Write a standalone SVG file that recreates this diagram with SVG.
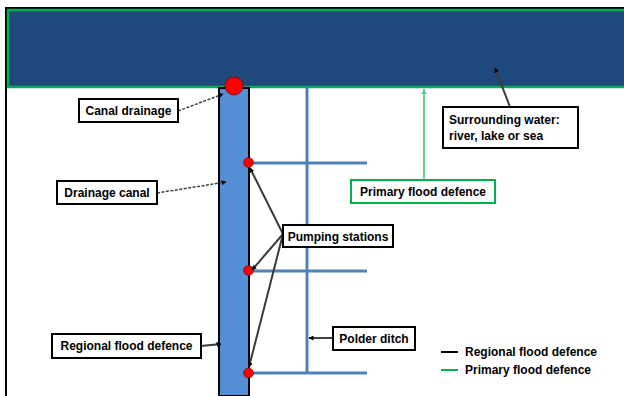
<svg xmlns="http://www.w3.org/2000/svg" width="624" height="396" viewBox="0 0 624 396">
<defs>
<style>
.lbl{font-family:"Liberation Sans",Arial,sans-serif;font-size:12px;font-weight:bold;fill:#000}
.box{fill:#fff;stroke:#000;stroke-width:2}
.gbox{fill:#fff;stroke:#00B050;stroke-width:2}
.ditch{stroke:#4F81BD;stroke-width:3;fill:none}
.ptr{stroke:#3A3A3A;stroke-width:2;fill:none;marker-end:url(#ah)}
.dash{stroke:#404040;stroke-width:1.5;fill:none;stroke-dasharray:3 1.5;marker-end:url(#ah)}
.pump{fill:#FF0000;stroke:#800000;stroke-width:0.8}
</style>
<marker id="ah" viewBox="0 0 10 10" refX="9" refY="5" markerWidth="5" markerHeight="5" orient="auto" markerUnits="userSpaceOnUse">
<path d="M0,0 L10,5 L0,10 z" fill="#000"/>
</marker>
<marker id="gah" viewBox="0 0 10 10" refX="9" refY="5" markerWidth="6" markerHeight="6" orient="auto" markerUnits="userSpaceOnUse">
<path d="M0,0 L10,5 L0,10 z" fill="#66D08A"/>
</marker>
</defs>
<rect width="624" height="396" fill="#fff"/>
<line x1="6" y1="8" x2="624" y2="8" stroke="#000" stroke-width="2"/>
<line x1="6" y1="7" x2="6" y2="396" stroke="#000" stroke-width="2"/>
<g id="water">
<rect x="8" y="10" width="620" height="77" fill="#1F497D" stroke="#00B050" stroke-width="2.5"/>
</g>
<g id="polder-ditch-lines">
<line class="ditch" x1="307" y1="88" x2="307" y2="374"/>
<line class="ditch" x1="248" y1="163" x2="367" y2="163"/>
<line class="ditch" x1="248" y1="271" x2="367" y2="271"/>
<line class="ditch" x1="248" y1="373" x2="367" y2="373"/>
</g>
<g id="canal">
<rect x="219" y="88" width="30" height="308" fill="#558ED5" stroke="#000" stroke-width="2"/>
</g>
<g id="stations">
<circle class="pump" cx="234" cy="86" r="9"/>
<circle class="pump" cx="248.5" cy="162.5" r="4.8"/>
<circle class="pump" cx="248.5" cy="270.5" r="4.8"/>
<circle class="pump" cx="248.5" cy="373" r="4.8"/>
</g>
<g id="connectors">
<line class="dash" x1="178" y1="111" x2="223" y2="94"/>
<line class="dash" x1="157" y1="193" x2="226" y2="182"/>
<line class="ptr" x1="510" y1="107" x2="495" y2="68"/>
<line x1="424" y1="180" x2="424" y2="89" stroke="#66D08A" stroke-width="2" marker-end="url(#gah)"/>
<line class="ptr" x1="283" y1="234" x2="250" y2="168"/>
<line class="ptr" x1="283" y1="234" x2="252" y2="270"/>
<line class="ptr" x1="283" y1="234" x2="249" y2="367"/>
<line class="ptr" x1="201" y1="346" x2="221" y2="344"/>
<line x1="333" y1="338" x2="309" y2="338" stroke="#000" stroke-width="1.5" marker-end="url(#ah)"/>
</g>
<g id="canal-drainage">
<rect class="box" x="79" y="99" width="99" height="23"/>
<text class="lbl" x="128.5" y="115" text-anchor="middle">Canal drainage</text>
</g>
<g id="drainage-canal">
<rect class="box" x="57" y="181" width="100" height="23"/>
<text class="lbl" x="107" y="197" text-anchor="middle">Drainage canal</text>
</g>
<g id="surrounding-water">
<rect class="box" x="443" y="107" width="135" height="41"/>
<text class="lbl" x="449" y="124">Surrounding water:</text>
<text class="lbl" x="449" y="140">river, lake or sea</text>
</g>
<g id="primary-flood-defence">
<rect class="gbox" x="351" y="180" width="144" height="23"/>
<text class="lbl" x="423" y="196" text-anchor="middle">Primary flood defence</text>
</g>
<g id="pumping-stations">
<rect class="box" x="283" y="225" width="110" height="22"/>
<text class="lbl" x="338" y="240.5" text-anchor="middle">Pumping stations</text>
</g>
<g id="regional-flood-defence">
<rect class="box" x="52" y="334" width="149" height="24"/>
<text class="lbl" x="126.5" y="350" text-anchor="middle">Regional flood defence</text>
</g>
<g id="polder-ditch">
<rect class="box" x="333" y="327" width="82" height="23"/>
<text class="lbl" x="374" y="342.5" text-anchor="middle">Polder ditch</text>
</g>
<g id="legend">
<line x1="441" y1="352" x2="458" y2="352" stroke="#000" stroke-width="2"/>
<text class="lbl" x="465" y="356">Regional flood defence</text>
<line x1="441" y1="370" x2="458" y2="370" stroke="#00B050" stroke-width="2"/>
<text class="lbl" x="465" y="374">Primary flood defence</text>
</g>
</svg>
